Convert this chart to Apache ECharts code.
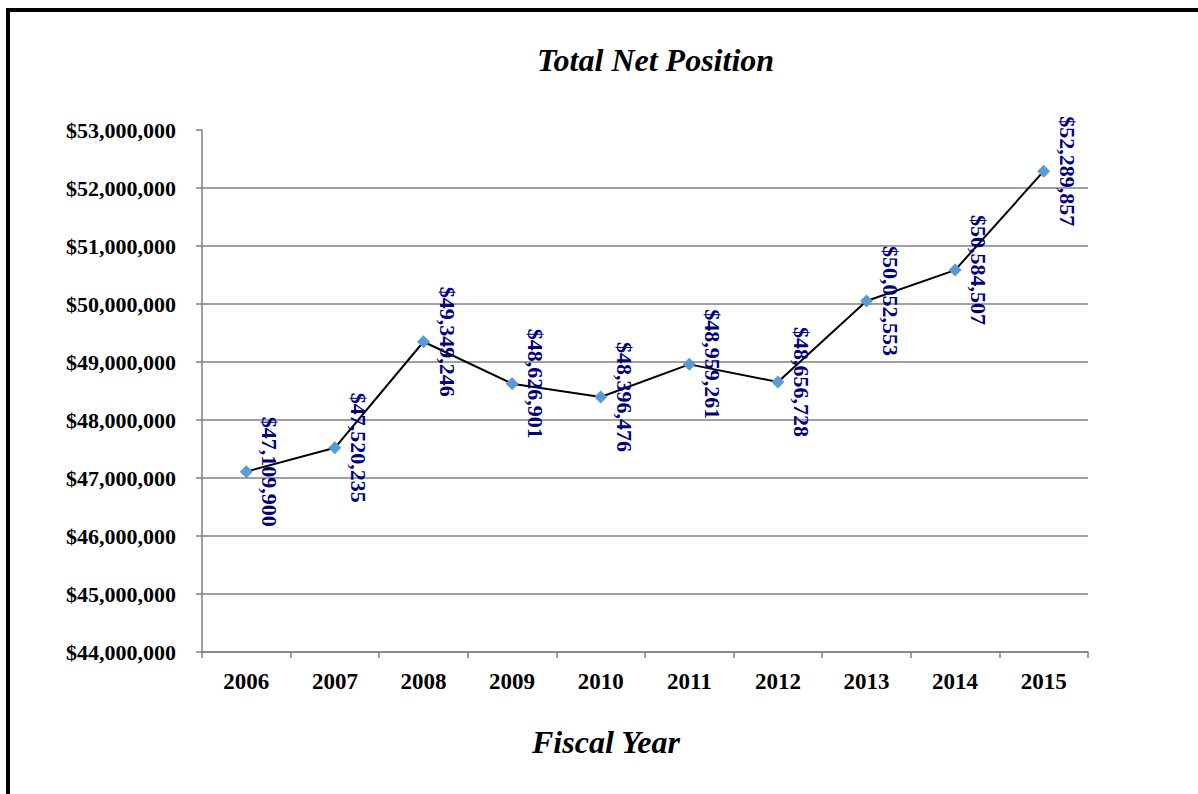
<!DOCTYPE html>
<html>
<head>
<meta charset="utf-8">
<script src="https://cdn.jsdelivr.net/npm/echarts@6/dist/echarts.min.js"></script>
<style>
html,body{margin:0;padding:0;background:#fff;}
#chart{width:1198px;height:794px;}
</style>
</head>
<body>
<div id="chart"></div>
<script>
const years = ['2006','2007','2008','2009','2010','2011','2012','2013','2014','2015'];
const netPosition = [47109900, 47520235, 49349246, 48626901, 48396476, 48959261, 48656728, 50052553, 50584507, 52289857];
const yMin = 44000000, yMax = 53000000, yStep = 1000000;

const serif = "'Liberation Serif', 'Times New Roman', Times, serif";
const money = v => '$' + Math.round(v).toLocaleString('en-US');

const chart = echarts.init(document.getElementById('chart'), null, {renderer: 'svg'});
chart.setOption({
  backgroundColor: '#ffffff',
  animation: false,
  title: [{
    text: 'Total Net Position',
    left: 537,
    top: 44,
    padding: 0,
    textStyle: {fontFamily: serif, fontSize: 32, fontWeight: 'bold', fontStyle: 'italic', color: '#000'}
  }, {
    text: 'Fiscal Year',
    left: 532,
    top: 726,
    padding: 0,
    textStyle: {fontFamily: serif, fontSize: 32, fontWeight: 'bold', fontStyle: 'italic', color: '#000'}
  }],
  graphic: [{
    type: 'rect',
    shape: {x: 8, y: 10, width: 1400, height: 1000},
    style: {fill: 'none', stroke: '#000', lineWidth: 4},
    silent: true
  }],
  grid: {left: 202, top: 130, right: 110, bottom: 142, containLabel: false},
  xAxis: {
    type: 'category',
    data: years,
    boundaryGap: true,
    axisLine: {lineStyle: {color: '#808080', width: 1.5}},
    axisTick: {show: true, alignWithLabel: false, length: 6, lineStyle: {color: '#808080', width: 1.5}},
    axisLabel: {fontFamily: serif, fontSize: 23, fontWeight: 'bold', color: '#000', margin: 18},
    splitLine: {show: false}
  },
  yAxis: {
    type: 'value',
    min: yMin, max: yMax, interval: yStep,
    axisLine: {show: true, lineStyle: {color: '#808080', width: 1.5}},
    axisTick: {show: true, length: 6, lineStyle: {color: '#808080', width: 1.5}},
    axisLabel: {fontFamily: serif, fontSize: 22, fontWeight: 'bold', color: '#000', margin: 26, formatter: v => money(v)},
    splitLine: {show: true, showMaxLine: false, lineStyle: {color: '#808080', width: 1.5}}
  },
  series: [{
    type: 'line',
    data: netPosition,
    symbol: 'diamond',
    symbolSize: 13,
    itemStyle: {color: '#5B9BD5'},
    lineStyle: {color: '#000', width: 2},
    z: 3,
    label: {
      show: true,
      position: 'right',
      distance: 17,
      rotate: -90,
      align: 'center',
      verticalAlign: 'middle',
      fontFamily: serif,
      fontSize: 22,
      fontWeight: 'bold',
      color: '#000080',
      formatter: p => money(p.value)
    }
  }]
});
</script>
</body>
</html>
